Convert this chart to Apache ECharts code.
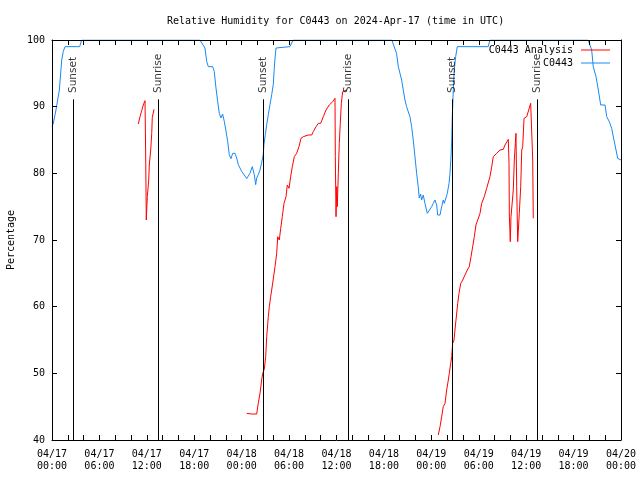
<!DOCTYPE html>
<html>
<head>
<meta charset="utf-8">
<script src="https://cdn.jsdelivr.net/npm/echarts@6/dist/echarts.min.js"></script>
<style>html,body{margin:0;padding:0;background:#fff}#c{width:640px;height:480px}</style>
</head>
<body>
<div id="c"></div>
<script>
// hours since 2024-04-17 00:00 UTC
const obsTime = [0,0.17,0.5,0.93,1.23,1.43,1.65,3.5,3.75,18.7,18.93,19.36,19.57,19.78,20.33,20.53,20.75,20.96,21.17,21.38,21.59,21.8,22.02,22.23,22.43,22.65,22.86,23.15,23.37,23.57,24,24.42,24.63,25.05,25.34,25.6,25.77,25.9,26.1,26.32,26.53,26.73,26.82,26.99,27.17,27.37,27.58,27.8,28,28.1,28.22,28.35,28.51,30.1,30.5,43,43.19,43.6,43.82,44.03,44.24,44.45,44.66,44.87,45.08,45.29,45.51,45.71,45.93,46.14,46.34,46.47,46.64,46.77,46.98,47.19,47.49,47.74,48.04,48.25,48.46,48.68,48.8,49.1,49.31,49.51,49.64,49.85,50.02,50.24,50.36,50.49,50.58,50.65,50.78,50.9,51.08,51.28,55.19,55.42,67.84,68.07,68.29,68.49,68.84,69.13,69.43,69.98,70.19,70.52,70.82,71.11,71.37,71.58,72];
const obsRH = [87,87.5,89.5,92.5,97,98.3,99,99,100,100,99.8,98.8,96.8,96,96,95.3,92.8,90.8,89,88.3,88.9,87.8,86.3,84.8,82.8,82.2,83,83,82.3,81.3,80.3,79.6,79.2,80,81,79.8,78.3,79.3,79.8,80.5,81.6,82.8,84.3,85.8,87.3,88.8,90.3,91.8,93.3,95.3,97.3,98.8,99,99,100,100,99.75,98,96,95,94,92.5,91,90,90,88.5,87,85,82.5,80,78,76.3,76.9,76,76.75,75.5,74,74,75,75.5,76,75.25,73.75,73.75,75,76,75.5,76.3,77,78.5,80,82.5,85,88.5,92.5,95.5,97.5,99,99,100,100,99.25,98.5,96,94.5,92.5,90.25,90.25,88.5,87.75,86.75,85,83.5,82.25,82];

const anaTime = [10.92,11.14,11.35,11.55,11.77,11.86,11.93,12.06,12.24,12.31,12.49,12.62,12.69,12.91,
  18,
  24.64,25.27,25.9,26.1,26.32,26.53,26.66,26.86,27.04,27.17,27.37,27.5,27.67,27.8,28,28.22,28.43,28.56,28.76,28.94,29.14,29.36,29.61,29.77,29.99,30.2,30.41,30.66,30.96,31.25,31.51,31.8,32.43,32.86,33.06,33.41,33.7,34,34.33,34.67,35.09,35.52,35.81,35.85,35.94,36.03,36.1,36.23,36.35,36.48,36.61,36.78,37.29,
  43,
  48.88,49.1,49.31,49.51,49.73,49.94,50.15,50.27,50.45,50.58,50.7,50.87,50.99,51.12,51.34,51.5,51.72,51.97,52.26,52.55,52.8,53.02,53.23,53.44,53.65,53.87,54.16,54.37,54.7,55,55.21,55.42,55.64,55.84,56.27,56.69,57.11,57.32,57.74,57.83,57.87,57.99,58.08,58.21,58.37,58.5,58.63,58.71,58.8,58.93,59.05,59.13,59.31,59.44,59.56,59.73,59.89,60.07,60.32,60.57,60.74,60.83,60.9];
const anaRH = [87.4,88.5,89.4,90.25,90.9,82,73,76.5,79,81.25,83.5,86,88.4,89.6,
  null,
  44,43.9,43.9,45.5,47,49,50,50.6,52.5,55.5,58.5,60,61.5,62.5,62.5,66,68,70.5,70,71.75,73.5,75.5,76.5,78.25,77.75,79.5,81,82.5,83,84,85.25,85.5,85.75,85.75,86.25,87,87.5,87.5,88.5,89.5,90.25,90.75,91.25,82.5,73.5,78,75,80,84.5,87.5,90.5,92.25,92.5,
  null,
  40.75,42,43.5,45,45.5,47.5,49,50,51.5,52.5,54.5,55,56.5,58,60.5,62,63.5,64,64.75,65.5,66,67.5,69,70.5,72.25,73,74,75.5,76.5,77.75,78,79.5,81,82.5,83,83.5,83.6,84.25,85.1,81.5,73.75,69.75,73.5,73.5,77.5,82,84.5,86,78,69.75,70,74,78,83.5,84,88.25,88,88.5,89.5,90.5,90.75,82,73.25];

const sunEventTime = [2.66, 13.45, 26.72, 37.47, 50.65, 61.42];
const sunEventName = ['Sunset','Sunrise','Sunset','Sunrise','Sunset','Sunrise'];
const sunLineTop = 91.1;
const sunLabelY = 91.9;

const yTicks = [40,50,60,70,80,90,100];

const mono = 'DejaVu Sans Mono';
const zip = (a, b) => a.map((t, i) => [t, b[i]]);

function xLabel(v) {
  if (v % 6 !== 0) return '';
  const day = 17 + Math.floor(v / 24);
  const hh = String(v % 24).padStart(2, '0');
  return '04/' + day + '\n' + hh + ':00';
}

const chart = echarts.init(document.getElementById('c'), null, {renderer: 'canvas'});
const tickStyle = {show: true, inside: true, length: 5, lineStyle: {color: '#000', width: 1}};
const lineAx = {show: true, onZero: false, lineStyle: {color: '#000', width: 1}};

chart.setOption({
  animation: false,
  backgroundColor: '#fff',
  title: {
    text: 'Relative Humidity for C0443 on 2024-Apr-17 (time in UTC)',
    left: 162, top: 11,
    textStyle: {fontFamily: mono, fontSize: 10, fontWeight: 'normal', color: '#000'}
  },
  legend: {
    orient: 'vertical', align: 'right', right: 30, top: 44, padding: 0,
    icon: 'rect', itemWidth: 29, itemHeight: 1, itemGap: 1,
    textStyle: {fontFamily: mono, fontSize: 10, color: '#000', lineHeight: 12, padding: [0, 3, 0, 0]},
    data: ['C0443 Analysis', 'C0443']
  },
  grid: {left: 52, right: 19, top: 40, bottom: 40, containLabel: false, outerBoundsMode: 'none'},
  xAxis: [
    {type: 'value', min: 0, max: 72, interval: 2, position: 'bottom', z: 10,
     axisLine: lineAx, axisTick: tickStyle, splitLine: {show: false},
     axisLabel: {formatter: xLabel, fontFamily: mono, fontSize: 10, color: '#000', lineHeight: 12, margin: 8, showMinLabel: true, showMaxLabel: true}},
    {type: 'value', min: 0, max: 72, interval: 2, position: 'top', z: 10,
     axisLine: lineAx, axisTick: tickStyle, splitLine: {show: false}, axisLabel: {show: false}}
  ],
  yAxis: [
    {type: 'value', min: yTicks[0], max: yTicks[yTicks.length - 1], interval: 10, position: 'left', z: 10,
     name: 'Percentage', nameLocation: 'middle', nameRotate: 90, nameGap: 36,
     nameTextStyle: {fontFamily: mono, fontSize: 10, color: '#000'},
     axisLine: lineAx, axisTick: tickStyle, splitLine: {show: false},
     axisLabel: {fontFamily: mono, fontSize: 10, color: '#000', margin: 7}},
    {type: 'value', min: yTicks[0], max: yTicks[yTicks.length - 1], interval: 10, position: 'right', z: 10,
     axisLine: lineAx, axisTick: tickStyle, splitLine: {show: false}, axisLabel: {show: false}}
  ],
  series: [
    {name: 'C0443 Analysis', type: 'line', data: zip(anaTime, anaRH), showSymbol: false, symbol: 'none',
     connectNulls: false, lineStyle: {color: '#ff0000', width: 1}, itemStyle: {color: '#ff0000'}, z: 3},
    {name: 'C0443', type: 'line', data: zip(obsTime, obsRH), showSymbol: false, symbol: 'none',
     lineStyle: {color: '#1a88f2', width: 1}, itemStyle: {color: '#1a88f2'}, z: 3},
    {name: 'sun', type: 'scatter', symbol: 'circle', symbolSize: 1, silent: true, z: 4,
     itemStyle: {color: 'rgba(0,0,0,0)'},
     data: sunEventTime.map((t, i) => ({value: [t, sunLabelY], name: sunEventName[i]})),
     label: {show: true, formatter: p => p.name, position: 'inside', rotate: 90, align: 'left', verticalAlign: 'middle',
             offset: [1, 0], fontFamily: 'DejaVu Sans', fontSize: 10.5, color: '#000'},
     markLine: {silent: true, symbol: 'none', animation: false, label: {show: false},
       lineStyle: {color: '#000', width: 1, type: 'solid'},
       data: sunEventTime.map(t => [{coord: [t, 40]}, {coord: [t, sunLineTop]}])}}
  ]
});
</script>
</body>
</html>
